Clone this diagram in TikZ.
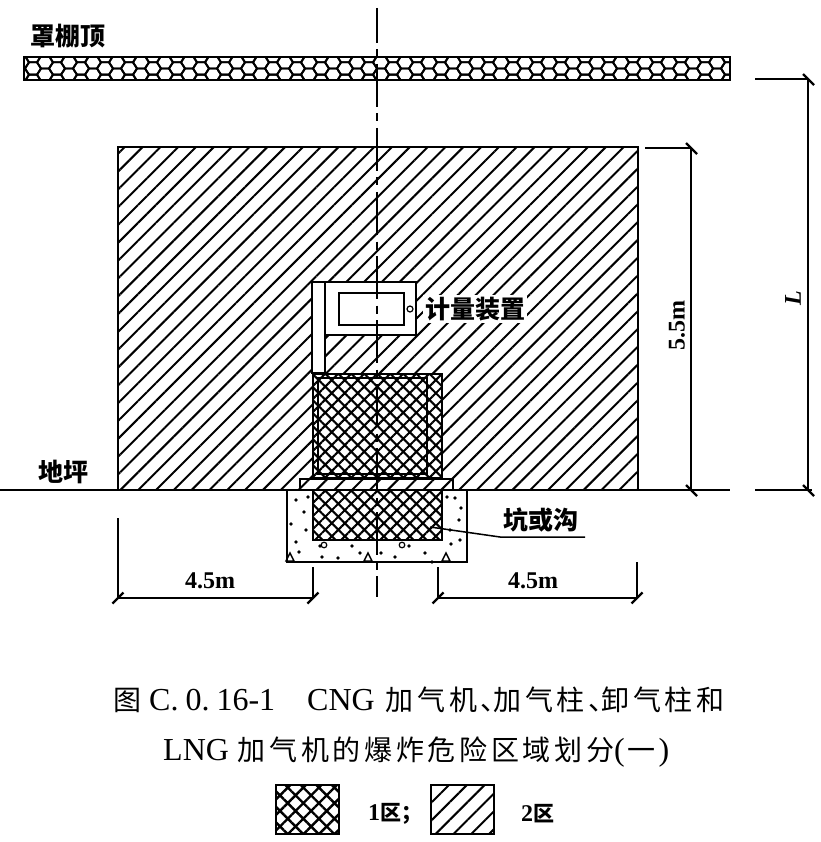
\documentclass[tikz,border=0pt]{standalone}
\usepackage{fontspec}
\setmainfont{Liberation Serif}
\newfontfamily\cjk{Noto Sans CJK SC}
\newfontfamily\cjkwide[LetterSpace=13]{Noto Sans CJK SC}
\usetikzlibrary{patterns.meta}
\tikzset{zonetwo/.style = {pattern={Lines[angle=45,distance=12.6pt,line width=2pt]}}}
\tikzset{zoneone/.style = {pattern={Hatch[angle=45,distance=9.2pt,line width=2.1pt]}}}
\tikzset{keyone/.style = {pattern={Hatch[angle=45,distance=11pt,line width=2.4pt]}}}
\tikzset{outline/.style = {draw, line width=2pt}}
\tikzset{dim/.style = {line width=1.7pt}}
\tikzset{tag/.style = {font=\cjk\bfseries\fontsize{25}{25}\selectfont, inner sep=1pt}}
\tikzset{dimtext/.style = {font=\bfseries\fontsize{24}{24}\selectfont, inner sep=1pt}}
\tikzset{caption/.style = {font=\fontsize{32}{32}\selectfont, inner sep=0pt, anchor=west}}
\newcommand{\dimtick}[1]{\draw[line width=2.2pt] (#1) ++(-5.5,5.5) -- ++(11,-11);}
\newcommand{\dimtickb}[1]{\draw[line width=2.2pt] (#1) ++(-5,-5) -- ++(11,11);}

\begin{document}
\begin{tikzpicture}[x=1pt, y=-1pt]
\useasboundingbox (0,0) rectangle (820,842);

% canopy
\begin{scope}
  \clip (24,57) rectangle (730,80);
  \foreach \col in {0,...,30}
    \foreach \row in {-2,...,2} {
      \pgfmathsetmacro{\hx}{9 + 24*\col + (mod(\row+2,2)==1 ? 12 : 0)}
      \pgfmathsetmacro{\hy}{68.5 + 6.2*\row}
      \draw[line width=1.9pt] (\hx-8,\hy) -- (\hx-4,\hy-6.2) -- (\hx+4,\hy-6.2)
        -- (\hx+8,\hy) -- (\hx+4,\hy+6.2) -- (\hx-4,\hy+6.2) -- cycle;
    }
\end{scope}
\node[outline, minimum width=706pt, minimum height=23pt, inner sep=0pt] (canopy) at (377,68.5) {};
\node[tag, anchor=west] (canopy-label) at (29,36) {罩棚顶};

% zone 2
\node[outline, zonetwo, minimum width=520pt, minimum height=343pt, inner sep=0pt] (zone2) at (378,318.5) {};

% pit
\node[draw, fill=white, line width=2pt, minimum width=180pt, minimum height=72pt, inner sep=0pt] (pit) at (377,526) {};
\foreach \dx/\dy in {296/500,304/512,291/524,306/530,296/542,299/552,320/546,352/546,
  409/546,338/558,360/553,395/557,425/553,432/562,455/498,459/520,450/530,451/544,460/540,
  447/497,308/497,322/557,381/553,461/508}
  \fill (\dx,\dy) circle (1.8);
\foreach \cx in {324,402}
  \draw[line width=1.2pt] (\cx,545) circle (2.8);
\foreach \tx in {290,368,446}
  \draw[line width=1.4pt] (\tx-4,561) -- (\tx,553) -- (\tx+4,561) -- cycle;
\node[draw, fill=white, line width=2pt, minimum width=129pt, minimum height=50pt, inner sep=0pt] (pit-zone) at (377.5,515) {};
\node[draw, line width=2pt, zoneone, minimum width=129pt, minimum height=50pt, inner sep=0pt] at (377.5,515) {};

% slab
\node[outline, fill=white, minimum width=153pt, minimum height=11pt, inner sep=0pt] (slab) at (376.5,484.5) {};
\node[zonetwo, minimum width=153pt, minimum height=11pt, inner sep=0pt] at (376.5,484.5) {};

% zone 1 above ground
\node[draw, fill=white, line width=2pt, minimum width=129pt, minimum height=104pt, inner sep=0pt] (zone1) at (377.5,425.5) {};
\node[draw, line width=2pt, zoneone, minimum width=129pt, minimum height=104pt, inner sep=0pt] at (377.5,425.5) {};
\node[draw, line width=2pt, minimum width=109pt, minimum height=96pt, inner sep=0pt] (zone1-in) at (372.5,426) {};

% meter
\node[outline, fill=white, minimum width=104pt, minimum height=53pt, inner sep=0pt] (head) at (364,308.5) {};
\node[outline, fill=white, minimum width=13pt, minimum height=91pt, inner sep=0pt] (post) at (318.5,327.5) {};
\node[outline, minimum width=65pt, minimum height=32pt, inner sep=0pt] (display) at (371,309) {};
\node[draw, circle, line width=1.2pt, minimum size=6pt, inner sep=0pt] (lamp) at (410,309) {};
\node[tag, fill=white, anchor=west, inner sep=2pt] (meter-label) at (423,309) {计量装置};

% ground
\coordinate (ground-l) at (0,490);
\coordinate (ground-r) at (730,490);
\coordinate (ground-rr) at (755,490);
\coordinate (ground-end) at (812,490);
\draw[line width=2pt] (ground-l) -- (ground-r);
\draw[line width=2pt] (ground-rr) -- (ground-end);
\node[tag, anchor=west] (ground-label) at (37,472) {地坪};

% centre line
\coordinate (axis-top) at (377,8);
\coordinate (axis-bot) at (377,597);
\draw[line width=1.6pt, dash pattern=on 43pt off 6.5pt on 8pt off 6.5pt, dash phase=8pt] (axis-top) -- (axis-bot);

% pit leader
\coordinate (leader-a) at (430,527);
\coordinate (leader-b) at (500,537);
\coordinate (leader-c) at (585,537);
\draw[line width=1.5pt] (leader-a) -- (leader-b) -- (leader-c);
\node[tag, anchor=west] (pit-label) at (502,520) {坑或沟};

% 4.5m left
\coordinate (dl-a) at (118,598);
\coordinate (dl-b) at (313,598);
\draw[dim] (dl-a) -- (dl-b);
\draw[dim] (118,518) -- (dl-a);
\draw[dim] (313,567) -- (dl-b);
\dimtick{dl-a} \dimtick{dl-b}
\node[dimtext] (dl-label) at (210,581) {4.5m};

% 4.5m right
\coordinate (dr-a) at (438,598);
\coordinate (dr-b) at (637,598);
\draw[dim] (dr-a) -- (dr-b);
\draw[dim] (438,567) -- (dr-a);
\draw[dim] (637,562) -- (dr-b);
\dimtick{dr-a} \dimtick{dr-b}
\node[dimtext] (dr-label) at (533,581) {4.5m};

% 5.5m
\coordinate (dh-a) at (691,148);
\coordinate (dh-b) at (691,490);
\draw[dim] (645,148) -- (dh-a);
\draw[dim] (dh-a) -- (dh-b);
\dimtickb{dh-a} \dimtickb{dh-b}
\node[dimtext, rotate=90] (dh-label) at (677,326) {5.5m};

% L
\coordinate (dv-a) at (808,79);
\coordinate (dv-b) at (808,490);
\draw[dim] (755,79) -- (dv-a);
\draw[dim] (dv-a) -- (dv-b);
\dimtickb{dv-a} \dimtickb{dv-b}
\node[dimtext, font=\itshape\bfseries\fontsize{24}{24}\selectfont, rotate=90] (dv-label) at (793,298) {L};

% caption
\node[caption] (cap-a) at (113,700) {{\fontsize{28}{28}\cjkwide 图}\hspace{8pt}C.\hspace{7pt}0.\hspace{7pt}16-1\hspace{32pt}CNG\hspace{11pt}{\fontsize{28}{28}\cjkwide 加气机、\hspace{-15pt}加气柱、\hspace{-15pt}卸气柱和}};
\node[caption] (cap-b) at (163,752) {LNG\hspace{9pt}{\fontsize{28}{28}\cjkwide 加气机的爆炸危险区域划分}(\hspace{3pt}{\fontsize{28}{28}\cjk 一}\hspace{3pt})};

% legend
\node[outline, keyone, minimum width=63pt, minimum height=49pt, inner sep=0pt] (key-one) at (307.5,809.5) {};
\node[outline, zonetwo, minimum width=63pt, minimum height=49pt, inner sep=0pt] (key-two) at (462.5,809.5) {};
\node[dimtext, anchor=west] (key-one-label) at (367,814) {1{\fontsize{21}{21}\cjk\bfseries 区；}};
\node[dimtext, anchor=west] (key-two-label) at (520,814) {2{\fontsize{21}{21}\cjk\bfseries 区}};
\end{tikzpicture}
\end{document}
